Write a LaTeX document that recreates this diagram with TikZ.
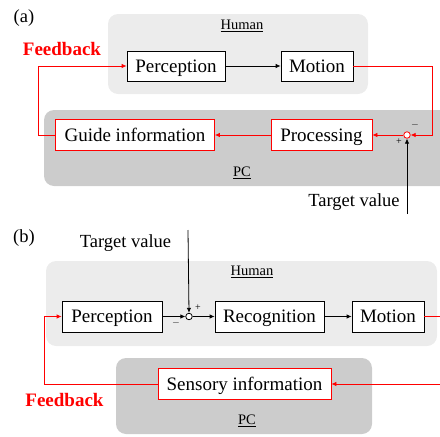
\documentclass[tikz,border=0pt]{standalone}
\usepackage{fontspec}
\setmainfont{Liberation Serif}
\usetikzlibrary{arrows.meta}
\definecolor{humanfill}{RGB}{236,236,236}
\definecolor{pcfill}{RGB}{204,204,204}
\definecolor{fbred}{RGB}{255,0,0}
\begin{document}
\begin{tikzpicture}[x=1pt,y=-1pt,
  blk/.style={draw=black,fill=white,line width=0.8pt,inner sep=0pt,text height=12.8pt,text depth=0pt,font=\fontsize{19}{22}\selectfont},
  rblk/.style={blk,draw=fbred},
  region/.style={rounded corners=10pt,draw=none},
  lbl/.style={font=\fontsize{14.5}{17}\selectfont,inner sep=0pt},
  big/.style={font=\fontsize{18.5}{22}\selectfont,inner sep=0pt},
  sm/.style={font=\fontsize{10}{12}\selectfont,inner sep=0pt},
  fb/.style={font=\fontsize{19}{22}\selectfont\bfseries,text=fbred,inner sep=0pt},
  arr/.style={-{Latex[length=5pt,width=4.5pt]},line width=0.8pt},
  rarr/.style={arr,draw=fbred},
  sumc/.style={circle,draw,fill=white,minimum size=7pt,inner sep=0pt,line width=0.8pt}
]
\useasboundingbox (0,0) rectangle (440,437);
% ---------- (a) ----------
\node[big] (la) at (24,18) {(a)};
\fill[humanfill,region] (108,14) rectangle (368,94);
\fill[pcfill,region] (44,110) rectangle (452,186);
\node[lbl] (hA) at (242,26) {\underline{Human}};
\node[lbl] (pA) at (242,173) {\underline{PC}};
\node[blk,minimum width=98pt,minimum height=30pt] (percA) at (176,66) {Perception};
\node[blk,minimum width=72pt,minimum height=30pt] (motA) at (317,66) {Motion};
\node[rblk,minimum width=159pt,minimum height=31pt] (guide) at (135,135) {Guide information};
\node[rblk,minimum width=101pt,minimum height=31pt] (proc) at (321.5,135) {Processing};
\node[sumc,draw=fbred,minimum size=6.5pt] (sumA) at (407,135) {};
\node[sm] (minA) at (415,125) {$-$};
\node[sm] (plusA) at (399,142) {+};
\node[fb] (fbA) at (62,49) {Feedback};
\node[big] (tvA) at (354,202) {Target value};
\coordinate (tvAend) at (407,214);
\coordinate (rA) at (432,66);
\coordinate (lA) at (38,135);
\draw[arr] (percA) -- (motA);
\draw[rarr] (motA.east) -- (rA) |- (sumA.east);
\draw[rarr] (sumA.west) -- (proc.east);
\draw[rarr] (proc.west) -- (guide.east);
\draw[rarr] (guide.west) -- (lA) |- (percA.west);
\draw[arr] (tvAend) -- (sumA.south);
% ---------- (b) ----------
\node[big] (lb) at (24,238) {(b)};
\fill[humanfill,region] (46,261) rectangle (437,346);
\fill[pcfill,region] (116,358) rectangle (372,434);
\node[lbl] (hB) at (252,272) {\underline{Human}};
\node[lbl] (pB) at (247,421) {\underline{PC}};
\node[blk,minimum width=100pt,minimum height=31pt] (percB) at (112,316.5) {Perception};
\node[blk,minimum width=109pt,minimum height=31pt] (recB) at (269.5,316.5) {Recognition};
\node[blk,minimum width=72pt,minimum height=31pt] (motB) at (388,316.5) {Motion};
\node[rblk,minimum width=173pt,minimum height=31pt] (sens) at (244.5,384) {Sensory information};
\node[sumc,minimum size=6.5pt] (sumB) at (189,316.5) {};
\node[sm] (plusB) at (198,308) {+};
\node[sm] (minB) at (176,323) {$-$};
\node[big] (tvB) at (125.5,243) {Target value};
\node[fb] (fbB) at (64.5,400) {Feedback};
\coordinate (tvBtop) at (188,230);
\coordinate (rBout) at (441,316.5);
\coordinate (rBin) at (441,384);
\coordinate (lB) at (44,384);
\draw[arr] (tvBtop) -- (sumB.north);
\draw[arr] (percB.east) -- (sumB.west);
\draw[arr] (sumB.east) -- (recB.west);
\draw[arr] (recB) -- (motB);
\draw[draw=fbred,line width=0.8pt] (motB.east) -- (rBout);
\draw[rarr] (rBin) -- (sens.east);
\draw[rarr] (sens.west) -- (lB) |- (percB.west);
\end{tikzpicture}
\end{document}
